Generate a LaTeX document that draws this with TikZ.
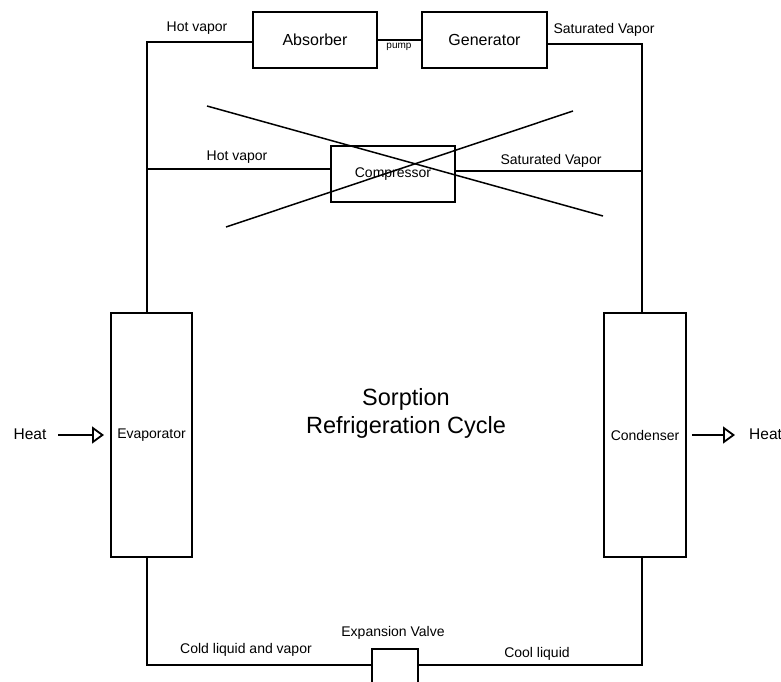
\documentclass[tikz,border=0pt]{standalone}
\usepackage{fontspec}
\setmainfont{Liberation Sans}
\usetikzlibrary{arrows.meta}
\tikzset{
  box/.style={draw, line width=1.7pt, rectangle, inner sep=0pt, font=\fontsize{16}{19}\selectfont},
  smallbox/.style={box, font=\fontsize{14}{17}\selectfont},
  lbl/.style={inner sep=0pt, font=\fontsize{14}{17}\selectfont},
  pipe/.style={line width=1.5pt},
  heatarrow/.style={line width=1.5pt, -{Triangle[open, length=12pt, width=17pt, line width=1.8pt]}},
}
\begin{document}
\begin{tikzpicture}[x=1pt,y=-1pt]
\useasboundingbox (0,0) rectangle (781,681);
% boxes
\node[box, minimum width=124pt, minimum height=56pt] (absorber) at (315,40) {Absorber};
\node[box, minimum width=125pt, minimum height=56pt] (generator) at (484.5,40) {Generator};
\node[smallbox, minimum width=124pt, minimum height=56pt] (compressor) at (393,174) {Compressor};
\node[smallbox, minimum width=81pt, minimum height=244pt] (evaporator) at (151.5,435) {Evaporator};
\node[smallbox, minimum width=82pt, minimum height=244pt] (condenser) at (645,435) {Condenser};
\node[box, minimum width=46pt, minimum height=44pt] (valve) at (395,671) {};
% routing coordinates
\coordinate (tl) at (147,42);
\coordinate (tr) at (642,44);
\coordinate (ml) at (147,169);
\coordinate (mr) at (642,171);
\coordinate (bl) at (147,665);
\coordinate (br) at (642,665);
% top loop
\draw[pipe] (absorber.west |- tl) -- (tl) -- (tl |- evaporator.north);
\draw[pipe] (absorber.east) -- (generator.west);
\draw[pipe] (generator.east |- tr) -- (tr) -- (tr |- condenser.north);
% compressor branch
\draw[pipe] (ml) -- (compressor.west |- ml);
\draw[pipe] (compressor.east |- mr) -- (mr);
% crossing-out lines
\coordinate (x1a) at (207,106);
\coordinate (x1b) at (603,216);
\coordinate (x2a) at (226,227);
\coordinate (x2b) at (573,111);
\draw[pipe] (x1a) -- (x1b);
\draw[pipe] (x2a) -- (x2b);
% bottom loop
\draw[pipe] (bl |- evaporator.south) -- (bl) -- (valve.west |- bl);
\draw[pipe] (valve.east |- br) -- (br) -- (br |- condenser.south);
% heat arrows
\node[inner sep=0pt, font=\fontsize{15.5}{18}\selectfont] (heatin) at (30,434) {Heat};
\node[inner sep=0pt, font=\fontsize{15.5}{18}\selectfont, anchor=west] (heatout) at (749,434) {Heat};
\coordinate (hinA) at (58,435);
\coordinate (hinB) at (104,435);
\draw[heatarrow] (hinA) -- (hinB);
\coordinate (houtA) at (condenser.east |- 0,435);
\coordinate (houtB) at (735,435);
\draw[heatarrow] ([xshift=5pt]houtA) -- (houtB);
% labels
\node[lbl] (l1) at (197,28) {Hot vapor};
\node[lbl] (l2) at (604,30) {Saturated Vapor};
\node[inner sep=0pt, font=\fontsize{10}{12}\selectfont] (l3) at (399,47) {pump};
\node[lbl] (l4) at (237,157) {Hot vapor};
\node[lbl] (l5) at (551,161) {Saturated Vapor};
\node[lbl] (l6) at (246,650) {Cold liquid and vapor};
\node[lbl] (l7) at (393,633) {Expansion Valve};
\node[lbl] (l8) at (537,654) {Cool liquid};
\node[inner sep=0pt, align=center, font=\fontsize{23.5}{28}\selectfont] (title) at (406,413) {Sorption\\Refrigeration Cycle};
\end{tikzpicture}
\end{document}
